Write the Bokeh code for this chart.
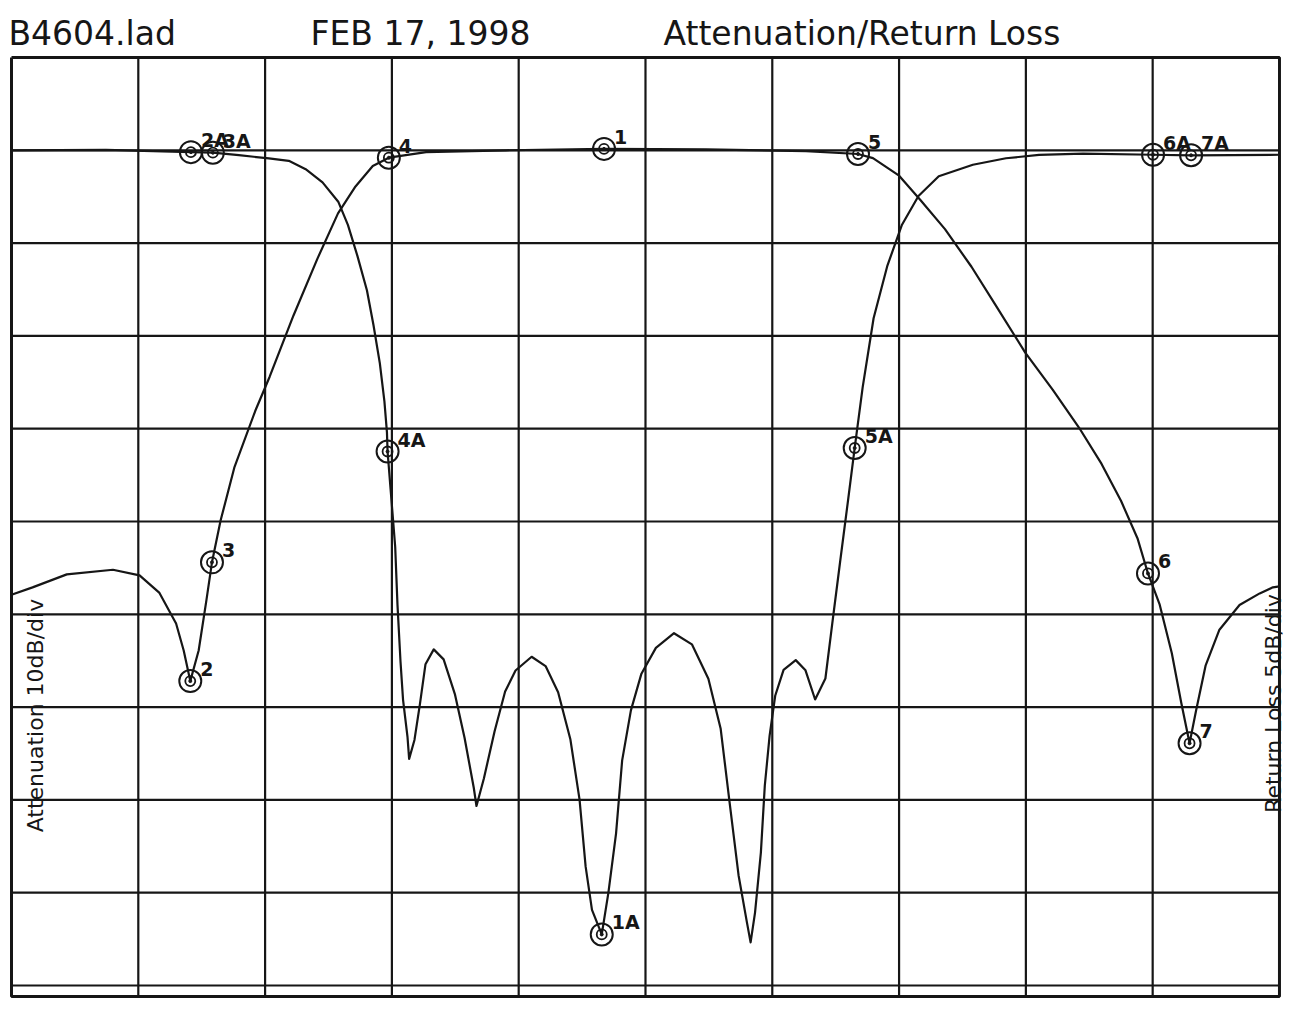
from bokeh.plotting import figure
from bokeh.models import Range1d
from bokeh.core.properties import value
from bokeh.embed import file_html
from bokeh.resources import INLINE

# ---------------- data (frequency in screen divisions, levels in dB) ----------------
freq_att = [0.0, 0.166, 0.436, 0.80, 1.01, 1.167, 1.298, 1.358, 1.41, 1.476, 1.537, 1.581,
            1.649, 1.757, 1.922, 2.036, 2.224, 2.412, 2.575, 2.713, 2.849, 2.976, 3.27, 3.90,
            4.673, 5.478, 6.266, 6.676, 6.794, 6.997, 7.168, 7.362, 7.571, 7.771, 7.995, 8.211,
            8.42, 8.597, 8.751, 8.88, 8.963, 9.054, 9.151, 9.225, 9.291, 9.342, 9.418, 9.525,
            9.685, 9.844, 9.948, 10.0]
att_db = [-47.9, -47.1, -45.7, -45.2, -45.8, -47.7, -51.0, -53.9, -57.2, -53.9, -48.5, -44.4,
          -39.9, -34.2, -28.1, -24.4, -17.8, -11.7, -6.8, -3.9, -1.7, -0.8, -0.2, 0.0,
          0.15, 0.1, -0.1, -0.4, -0.85, -2.7, -5.35, -8.5, -12.55, -16.9, -21.8, -25.8,
          -29.9, -33.8, -37.8, -41.8, -45.6, -48.9, -54.2, -59.5, -63.9, -60.4, -55.5, -51.7,
          -49.0, -47.75, -47.1, -47.0]

freq_rl = [0.0, 0.745, 1.415, 1.588, 1.793, 2.03, 2.187, 2.32, 2.453, 2.577, 2.653, 2.728,
           2.803, 2.855, 2.905, 2.941, 2.961, 2.966, 2.99, 3.026, 3.044, 3.068, 3.088, 3.123,
           3.136, 3.178, 3.221, 3.265, 3.33, 3.408, 3.498, 3.573, 3.646, 3.667, 3.726, 3.81,
           3.893, 3.975, 4.102, 4.212, 4.311, 4.408, 4.48, 4.528, 4.578, 4.655, 4.707, 4.768,
           4.816, 4.885, 4.968, 5.082, 5.225, 5.366, 5.496, 5.593, 5.663, 5.734, 5.8, 5.829,
           5.864, 5.91, 5.941, 5.979, 6.023, 6.089, 6.185, 6.262, 6.338, 6.419, 6.473, 6.535,
           6.597, 6.65, 6.713, 6.799, 6.908, 7.023, 7.153, 7.313, 7.582, 7.843, 8.104, 8.451,
           9.003, 9.303, 10.0]
rl_db = [0.0, 0.02, -0.1, -0.13, -0.26, -0.44, -0.57, -1.02, -1.73, -2.77, -4.02, -5.69,
         -7.54, -9.43, -11.48, -13.53, -15.2, -16.23, -18.28, -21.36, -24.48, -27.56, -29.61, -31.6,
         -32.79, -31.77, -29.84, -27.69, -26.89, -27.43, -29.33, -31.65, -34.36, -35.33, -33.83, -31.3,
         -29.16, -28.03, -27.29, -27.79, -29.2, -31.75, -34.99, -38.6, -40.93, -42.25, -40.02, -36.8,
         -32.87, -30.18, -28.2, -26.81, -26.02, -26.62, -28.47, -31.17, -35.12, -39.06, -41.6, -42.68,
         -41.07, -37.84, -34.23, -31.54, -29.39, -28.0, -27.47, -28.02, -29.59, -28.46, -25.5, -22.17,
         -18.89, -16.04, -12.76, -9.05, -6.21, -4.01, -2.46, -1.4, -0.78, -0.43, -0.25, -0.18,
         -0.24, -0.27, -0.24]

att_marker_names = ["2", "3", "4", "1", "5", "6", "7"]
att_marker_freq = [1.41, 1.581, 2.976, 4.673, 6.676, 8.963, 9.291]
att_marker_db = [-57.2, -44.4, -0.8, 0.15, -0.4, -45.6, -63.9]

rl_marker_names = ["2A", "3A", "4A", "1A", "5A", "6A", "7A"]
rl_marker_freq = [1.415, 1.588, 2.966, 4.655, 6.65, 9.003, 9.303]
rl_marker_db = [-0.1, -0.13, -16.23, -42.25, -16.04, -0.24, -0.27]

header_texts = ["B4604.lad", "FEB 17, 1998", "Attenuation/Return Loss"]
att_axis_label = "Attenuation 10dB/div"
rl_axis_label = "Return Loss 5dB/div"

freq_divisions = list(range(0, 11))                    # 10 divisions across
att_grid_db = [10 - 10 * k for k in range(0, 11)]      # 10 dB/div, 0 dB on first line
att_frame_bottom = -91.2                               # outer frame line below last grid line
RL_PER_DIV = 5.0
ATT_PER_DIV = 10.0

# ---------------- figure ----------------
W, H = 1290, 1008
X0, X1 = -0.0868, 10.087
Y0, Y1 = -92.48, 16.14
ink = "#161616"
FONT = value("DejaVu Sans")

p = figure(width=W, height=H, output_backend="svg", toolbar_location=None,
           x_axis_location=None, y_axis_location=None, title=None,
           x_range=Range1d(X0, X1), y_range=Range1d(Y0, Y1),
           min_border=0, outline_line_color=None,
           background_fill_color="white", border_fill_color="white")
p.extra_y_ranges = {"rl": Range1d(Y0 * RL_PER_DIV / ATT_PER_DIV, Y1 * RL_PER_DIV / ATT_PER_DIV)}
p.xgrid.visible = False
p.ygrid.visible = False

# grid lines
inner_x = freq_divisions[1:-1]
p.segment(x0=inner_x, x1=inner_x, y0=[att_grid_db[0]] * len(inner_x),
          y1=[att_frame_bottom] * len(inner_x), line_color=ink, line_width=2.2)
inner_y = att_grid_db[1:]
p.segment(x0=[freq_divisions[0]] * len(inner_y), x1=[freq_divisions[-1]] * len(inner_y),
          y0=inner_y, y1=inner_y, line_color=ink, line_width=2.2)
# outer frame
fx = [freq_divisions[0], freq_divisions[-1], freq_divisions[-1], freq_divisions[0], freq_divisions[0]]
fy = [att_grid_db[0], att_grid_db[0], att_frame_bottom, att_frame_bottom, att_grid_db[0]]
p.line(fx, fy, line_color=ink, line_width=3)

# traces
p.line(freq_att, att_db, line_color=ink, line_width=2.2, line_join="round")
p.line(freq_rl, rl_db, line_color=ink, line_width=2.2, line_join="round", y_range_name="rl")

# markers (double circle)
for size, lw in ((22, 2), (10, 1.8)):
    p.scatter(att_marker_freq, att_marker_db, size=size, marker="circle",
              fill_color=None, line_color=ink, line_width=lw)
    p.scatter(rl_marker_freq, rl_marker_db, size=size, marker="circle",
              fill_color=None, line_color=ink, line_width=lw, y_range_name="rl")
p.scatter(att_marker_freq, att_marker_db, size=3, marker="circle", fill_color=ink, line_color=ink)
p.scatter(rl_marker_freq, rl_marker_db, size=3, marker="circle", fill_color=ink, line_color=ink,
          y_range_name="rl")

p.text(att_marker_freq, att_marker_db, text=att_marker_names, x_offset=10, y_offset=-12,
       text_font=FONT, text_font_size="19px", text_font_style="bold", text_color=ink,
       text_baseline="alphabetic", text_align="left")
p.text(rl_marker_freq, rl_marker_db, text=rl_marker_names, x_offset=10, y_offset=-12,
       text_font=FONT, text_font_size="19px", text_font_style="bold", text_color=ink,
       text_baseline="alphabetic", text_align="left", y_range_name="rl")

# header line above the graticule
p.text(x=[-0.024, 2.358, 5.142], y=[12.6, 12.6, 12.6], text=header_texts,
       text_font=FONT, text_font_size="33px", text_color=ink,
       text_baseline="alphabetic", text_align="left")

# scale labels along the sides
p.text(x=[0.19], y=[-73.5], text=[att_axis_label], angle=1.5708,
       text_font=FONT, text_font_size="22px", text_color=ink,
       text_baseline="alphabetic", text_align="left")
p.text(x=[9.95], y=[-71.4], text=[rl_axis_label], angle=1.5708,
       text_font=FONT, text_font_size="22px", text_color=ink,
       text_baseline="alphabetic", text_align="left")

open("out.html", "w").write(file_html(p, INLINE))
